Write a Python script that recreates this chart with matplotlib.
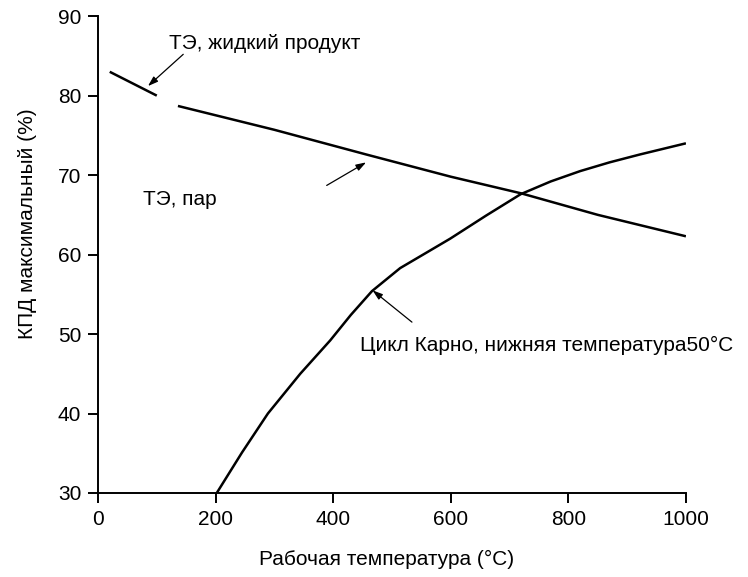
import matplotlib

matplotlib.use("Agg")
import matplotlib.pyplot as plt  # noqa: E402

plt.rcParams["font.family"] = ["Liberation Sans", "DejaVu Sans"]

# Data
liquid_t = [20, 100]
liquid_eff = [83.0, 80.0]

steam_t = [136, 300, 456, 600, 720, 850, 1000]
steam_eff = [78.7, 75.7, 72.6, 69.8, 67.7, 65.0, 62.3]

carnot_t = [202, 245, 289, 344, 395, 430, 466, 514, 560, 599, 660, 719, 770, 820, 870, 922, 1000]
carnot_eff = [30.0, 35.1, 40.0, 45.0, 49.2, 52.4, 55.4, 58.3, 60.3, 62.0, 64.9, 67.6, 69.2, 70.5, 71.6, 72.6, 74.0]

x_ticks = [0, 200, 400, 600, 800, 1000]
y_ticks = [30, 40, 50, 60, 70, 80, 90]

FS = 15

fig = plt.figure(figsize=(7.48, 5.77), dpi=100)
ax = fig.add_axes([0.131, 0.1456, 0.786, 0.8264])

ax.plot(liquid_t, liquid_eff, color="black", lw=1.8, solid_capstyle="butt")
ax.plot(steam_t, steam_eff, color="black", lw=1.8, solid_capstyle="butt")
ax.plot(carnot_t, carnot_eff, color="black", lw=1.8, solid_capstyle="butt")

arrow = dict(arrowstyle="-|>,head_length=0.6,head_width=0.2", color="black", lw=0.9,
             shrinkA=0, shrinkB=0)

ax.annotate("", xy=(85, 81.2), xytext=(145, 85.2), arrowprops=arrow)
ax.text(121, 86.6, "ТЭ, жидкий продукт", fontsize=FS, va="center", ha="left")

ax.annotate("", xy=(456, 71.6), xytext=(389, 68.7), arrowprops=arrow)
ax.text(76, 66.9, "ТЭ, пар", fontsize=FS, va="center", ha="left")

ax.annotate("", xy=(467, 55.5), xytext=(534, 51.5), arrowprops=arrow)
ax.text(446, 48.6, "Цикл Карно, нижняя температура50°C", fontsize=FS,
        va="center", ha="left", clip_on=False)

ax.set_xlim(0, 1000)
ax.set_ylim(30, 90)
ax.set_xticks(x_ticks)
ax.set_yticks(y_ticks)
ax.tick_params(direction="out", length=7, width=1.4, labelsize=FS, pad=5)

for side in ("top", "right"):
    ax.spines[side].set_visible(False)
for side in ("left", "bottom"):
    ax.spines[side].set_linewidth(1.4)

ax.set_xlabel("Рабочая температура (°C)", fontsize=FS)
ax.set_ylabel("КПД максимальный (%)", fontsize=FS)
ax.xaxis.set_label_coords(0.49, -0.12)
ax.yaxis.set_label_coords(-0.104, 0.564)

fig.savefig("out.png", dpi=100, facecolor="white")
plt.close(fig)
